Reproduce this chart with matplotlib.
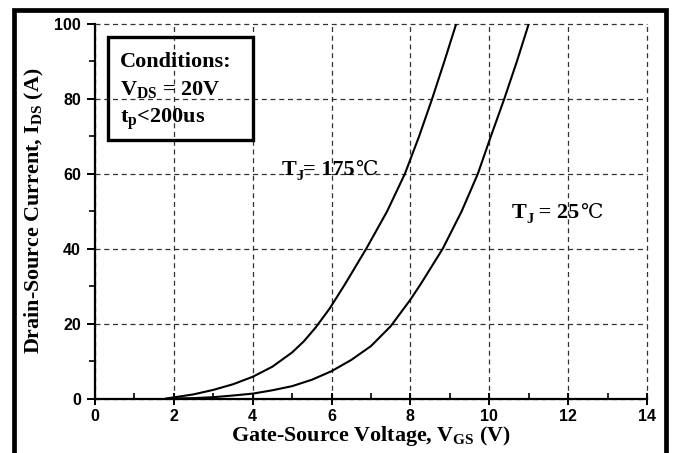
import matplotlib
matplotlib.use("Agg")
import matplotlib.pyplot as plt
from matplotlib.patches import Rectangle
from matplotlib.ticker import MultipleLocator
from matplotlib.transforms import offset_copy

plt.rcParams['mathtext.fontset'] = 'custom'
plt.rcParams['mathtext.rm'] = 'Liberation Serif:bold'
plt.rcParams['mathtext.it'] = 'Liberation Serif:bold'
plt.rcParams['mathtext.bf'] = 'Liberation Serif:bold'

# transfer curves
vgs_175 = [1.8, 2.0, 2.5, 3.0, 3.5, 4.0, 4.5, 5.0, 5.3, 5.6, 5.95, 6.34, 6.88, 7.41, 7.86, 8.22, 8.55, 8.86, 9.16]
ids_175 = [0, 0.3, 1.1, 2.3, 3.8, 5.8, 8.5, 12.3, 15.3, 19.0, 24.0, 30.5, 40, 50, 60, 70, 80, 90, 100]

vgs_25 = [2.0, 2.5, 3.0, 3.5, 4.0, 4.5, 5.0, 5.5, 6.0, 6.5, 7.0, 7.5, 8.0, 8.27, 8.82, 9.30, 9.71, 10.04, 10.38, 10.70, 11.0]
ids_25 = [0, 0.1, 0.35, 0.8, 1.3, 2.2, 3.3, 5.0, 7.3, 10.3, 14, 19.3, 26.4, 30.7, 40, 50, 60, 70, 80, 90, 100]

x_ticks = [0, 2, 4, 6, 8, 10, 12, 14]
y_ticks = [0, 20, 40, 60, 80, 100]

serif = ['Liberation Serif', 'DejaVu Serif', 'DejaVu Sans']

fig = plt.figure(figsize=(6.75, 4.53), dpi=100)
ax = fig.add_axes([0.1407, 0.1203, 0.8178, 0.8267])

ax.plot(vgs_175, ids_175, color='black', lw=1.5)
ax.plot(vgs_25, ids_25, color='black', lw=1.5)

ax.set_xlim(0, 14)
ax.set_ylim(0, 100)
ax.set_xticks(x_ticks)
ax.set_yticks(y_ticks)
ax.xaxis.set_minor_locator(MultipleLocator(1))
ax.yaxis.set_minor_locator(MultipleLocator(10))

ax.grid(True, which='major', color='#333333', ls=(0, (4, 3)), lw=0.9)
for gl in ax.get_xgridlines() + ax.get_ygridlines():
    gl.set_clip_on(False)

ax.spines['top'].set_visible(False)
ax.spines['right'].set_visible(False)
ax.spines['left'].set_linewidth(1.6)
ax.spines['bottom'].set_linewidth(1.6)

ax.tick_params(axis='x', which='major', direction='inout', length=9, width=1.4, pad=3)
ax.tick_params(axis='x', which='minor', direction='in', length=4, width=1.2)
ax.tick_params(axis='y', which='major', direction='out', length=6, width=1.4, pad=4)
ax.tick_params(axis='y', which='minor', direction='out', length=4, width=1.2)
for lab in ax.get_xticklabels() + ax.get_yticklabels():
    lab.set_fontfamily('Liberation Sans')
    lab.set_fontweight('bold')
    lab.set_fontsize(11.5)

ax.set_xlabel(r'Gate-Source Voltage, $\mathrm{V_{GS}}$ (V)', fontfamily=serif,
              fontweight='bold', fontsize=15.8, labelpad=0)
ax.set_ylabel(r'Drain-Source Current, $\mathrm{I_{DS}}$ (A)', fontfamily=serif,
              fontweight='bold', fontsize=15.8, labelpad=6)

# conditions box
ax.add_patch(Rectangle((0.33, 69), 3.67, 27.5, fill=False, ec='black', lw=2.4, zorder=5))
ax.text(0.63, 88.5, 'Conditions:', fontfamily=serif, fontweight='bold', fontsize=16, va='baseline')
ax.text(0.63, 81.1, r'$\mathrm{V_{DS}}$ = 20V', fontfamily=serif, fontweight='bold', fontsize=16, va='baseline')
ax.text(0.63, 73.6, r'$\mathrm{t_p}$<200us', fontfamily=serif, fontweight='bold', fontsize=16, va='baseline')

renderer = fig.canvas.get_renderer()


def label_with_sub(x, y, parts, size):
    # plain text pieces side by side, so that the font fallback finds the ℃ sign
    for s, kind in parts:
        tr = ax.transData
        fs = size
        weight = 'bold'
        if kind == 'sub':
            tr = offset_copy(ax.transData, fig=fig, y=-size * 0.25, units='points')
            fs = size * 0.65
        elif kind == 'sign':
            fs = size * 0.9
            weight = 'normal'
        t = ax.text(x, y, s, transform=tr, fontfamily=serif, fontweight=weight,
                    fontsize=fs, va='baseline')
        bb = t.get_window_extent(renderer)
        x = ax.transData.inverted().transform((bb.x1, bb.y0))[0]


label_with_sub(4.73, 59.7, [('T', ''), ('J', 'sub'), ('= 175', ''), ('℃', 'sign')], 16)
label_with_sub(10.56, 48.3, [('T', ''), ('J', 'sub'), (' = 25', ''), ('℃', 'sign')], 16)

# thick outer frame
fig.patches.append(Rectangle((14 / 675, -0.2), (665.5 - 14) / 675, 1.2 - 9.5 / 453,
                             transform=fig.transFigure, fill=False, ec='black', lw=3.4))

fig.savefig('out.png', dpi=100)
